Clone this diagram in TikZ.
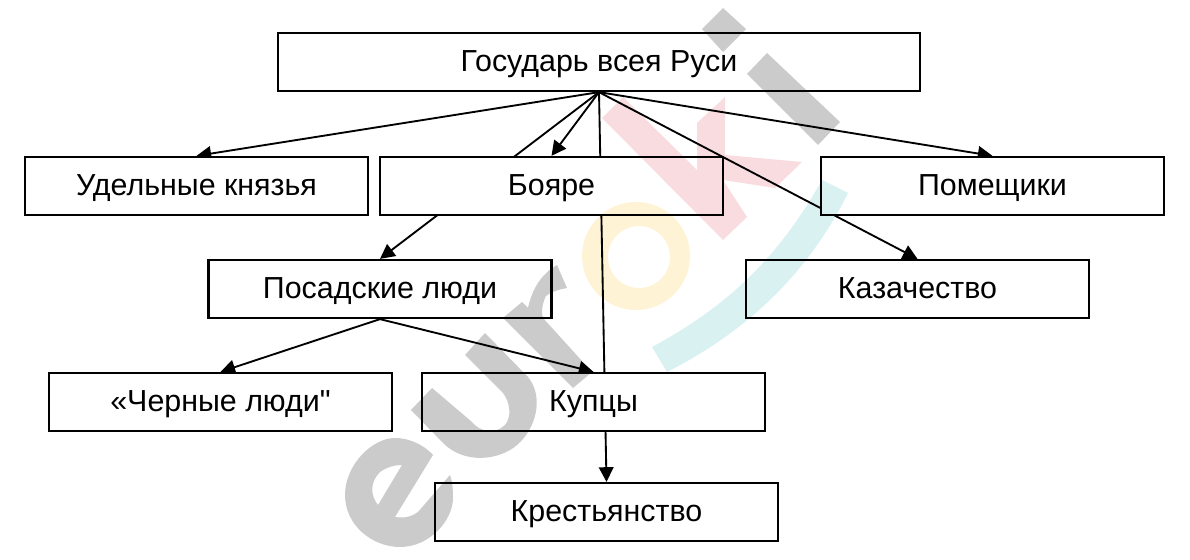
\documentclass[tikz,border=0pt]{standalone}
\usepackage{fontspec}
\setmainfont{Liberation Sans}[Ligatures=TeXOff]
\usetikzlibrary{arrows.meta}
\pgfdeclarelayer{conn}
\pgfdeclarelayer{whites}
\pgfdeclarelayer{mark}
\pgfsetlayers{conn,whites,mark,main}
\definecolor{wmgray}{HTML}{CBCBCB}
\definecolor{wmpink}{HTML}{F9DCE0}
\definecolor{wmyellow}{HTML}{FFF3D6}
\definecolor{wmcyan}{HTML}{DAF1F2}
\tikzset{
  boxa/.style={draw=black,line width=1.7pt,rectangle,inner sep=0pt,minimum width=257.25pt,minimum height=43.5pt,text height=14.6pt,text depth=0pt,font=\fontsize{22.8}{27}\selectfont},
  boxwide/.style={boxa,minimum width=481.5pt},
  link/.style={draw=black,line width=1.4pt},
  arrowlink/.style={link,-{Triangle[length=11pt,width=11pt]}},
  paper/.style={fill=white,draw=none}
}
\begin{document}
\begin{tikzpicture}[x=0.75pt,y=-0.75pt]
\useasboundingbox (0,0) rectangle (1190,560);
\node[boxwide] (gos) at (599,62) {Государь всея Руси};
\node[boxa] (udel) at (196.5,186) {Удельные князья};
\node[boxa] (boyar) at (551.5,186) {Бояре};
\node[boxa] (pomesh) at (992.5,186) {Помещики};
\node[boxa] (posad) at (380,289) {Посадские люди};
\node[boxa] (kazak) at (917.5,289) {Казачество};
\node[boxa] (cherny) at (220.5,402) {«Черные люди"};
\node[boxa] (kupcy) at (593.5,402) {Купцы};
\node[boxa] (krest) at (606.5,512) {Крестьянство};
\begin{pgfonlayer}{conn}
\draw[arrowlink] (gos.south) -- (udel.north);
\draw[arrowlink] (gos.south) -- (boyar.north);
\draw[arrowlink] (gos.south) -- (pomesh.north);
\draw[arrowlink] (gos.south) -- (posad.north);
\draw[arrowlink] (gos.south) -- (kazak.north);
\draw[arrowlink] (gos.south) -- (krest.north);
\draw[arrowlink] (posad.south) -- (cherny.north);
\draw[arrowlink] (posad.south) -- (kupcy.north);
\end{pgfonlayer}
\begin{pgfonlayer}{whites}
\foreach \n in {gos,udel,boyar,pomesh,posad,kazak,cherny,kupcy,krest}
  \fill[paper] (\n.south west) rectangle (\n.north east);
\end{pgfonlayer}
\begin{pgfonlayer}{mark}
\begin{scope}[blend mode=multiply]
% i
\fill[wmgray] (723,8) -- (746,29) -- (723,52) -- (702,29) -- cycle;
\fill[wmgray] (767,53) -- (840,122) -- (818,145) -- (747,74) -- cycle;
% k
\fill[wmpink] (602,118) -- (623,97) -- (697,170) -- (697,123) -- (725,97) -- (725,155) -- (802,162) -- (775,188) -- (723,180) -- (747,217) -- (723,240) -- cycle;
% o
\fill[wmyellow,even odd rule] (636,256) circle[radius=54] (639,257) circle[radius=31];
% arc
\fill[wmcyan] (822,180) .. controls (780,255) and (730,305) .. (652,347) -- (667,372) .. controls (750,330) and (810,270) .. (848,193) -- cycle;
% r
\fill[wmgray] (503,318) -- (522,302) -- (528,308) .. controls (532,290) and (540,275) .. (557,265) -- (567,288) .. controls (555,290) and (545,295) .. (545,298) .. controls (542,305) and (541,312) .. (543,318) -- (592,372) -- (573,388) -- cycle;
% u
\fill[wmgray] (411,410) -- (432,388) -- (472,422) .. controls (480,432) and (495,435) .. (505,425) .. controls (512,417) and (510,402) .. (503,393) -- (465,355) -- (485,333) -- (528,377) .. controls (545,398) and (535,430) .. (517,445) .. controls (500,460) and (465,465) .. (443,443) -- cycle;
% e
\fill[wmgray,even odd rule] (433,455) .. controls (422,443) and (407,438) .. (395,438) .. controls (372,438) and (345,465) .. (345,495) .. controls (345,525) and (372,547) .. (400,547) .. controls (430,547) and (453,520) .. (453,498) .. controls (453,488) and (452,480) .. (450,475) -- (418,512) .. controls (410,518) and (402,518) .. (395,517) -- cycle
  (402,465) -- (378,505) .. controls (370,495) and (370,482) .. (380,472) .. controls (387,467) and (395,465) .. (402,465) -- cycle;
\end{scope}
\end{pgfonlayer}
\end{tikzpicture}
\end{document}
